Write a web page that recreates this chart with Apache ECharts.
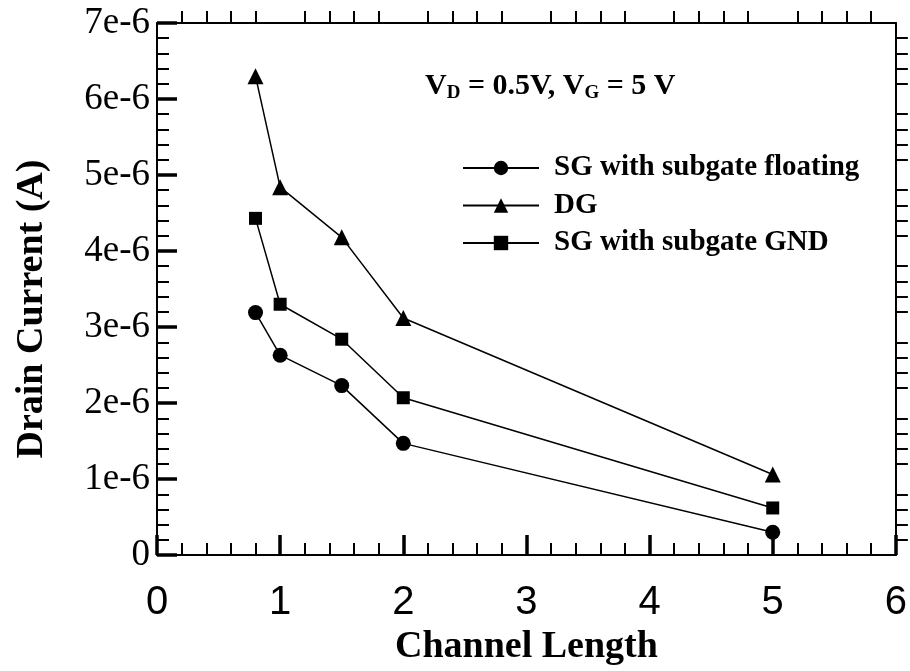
<!DOCTYPE html>
<html>
<head>
<meta charset="utf-8">
<script src="https://cdn.jsdelivr.net/npm/echarts@6/dist/echarts.min.js"></script>
<style>
  html, body { margin: 0; padding: 0; background: #fff; }
  #chart { width: 910px; height: 671px; }
</style>
</head>
<body>
<div id="chart"></div>
<script>
// Channel lengths of the measured devices
const channelLength = [0.8, 1, 1.5, 2, 5];

// Drain current (A) for each device configuration
const sgFloating = [3.19e-6, 2.63e-6, 2.23e-6, 1.47e-6, 0.30e-6];
const dg = [6.30e-6, 4.84e-6, 4.18e-6, 3.12e-6, 1.06e-6];
const sgGnd = [4.43e-6, 3.30e-6, 2.84e-6, 2.07e-6, 0.62e-6];

const seriesNames = ['SG with subgate floating', 'DG', 'SG with subgate GND'];

const serif = '"Liberation Serif", "Times New Roman", serif';
const sans = '"Liberation Sans", Arial, sans-serif';

function pairs(xs, ys) { return xs.map((x, i) => [x, ys[i]]); }

function yLabel(v) {
  const n = Math.round(v * 1e6);
  return n === 0 ? '0' : n + 'e-6';
}

const chart = echarts.init(document.getElementById('chart'), null, { renderer: 'canvas' });

const lineSeries = (name, ys, symbol, size) => ({
  name: name,
  type: 'line',
  data: pairs(channelLength, ys),
  symbol: symbol,
  symbolSize: size,
  showAllSymbol: true,
  itemStyle: { color: '#000' },
  lineStyle: { color: '#000', width: 1.5 },
  emphasis: { disabled: true },
  z: 5
});

chart.setOption({
  animation: false,
  backgroundColor: '#fff',
  grid: { left: 157, right: 13, top: 23, bottom: 114 },
  xAxis: [
    {
      type: 'value', min: 0, max: 6, interval: 1, position: 'bottom',
      name: 'Channel Length', nameLocation: 'middle', nameGap: 66,
      nameTextStyle: { fontFamily: serif, fontWeight: 'bold', fontSize: 38, color: '#000' },
      axisLine: { show: true, onZero: false, lineStyle: { color: '#000', width: 2 } },
      axisTick: { show: true, inside: true, length: 20, lineStyle: { color: '#000', width: 3.5 } },
      minorTick: { show: true, splitNumber: 5, length: 12, lineStyle: { color: '#000', width: 2 } },
      axisLabel: { margin: 28, fontFamily: sans, fontSize: 40, color: '#000' },
      splitLine: { show: false }, minorSplitLine: { show: false }
    },
    {
      type: 'value', min: 0, max: 6, interval: 1, position: 'top',
      axisLine: { show: true, onZero: false, lineStyle: { color: '#000', width: 2 } },
      axisTick: { show: false },
      minorTick: { show: true, splitNumber: 5, length: 12, lineStyle: { color: '#000', width: 2 } },
      axisLabel: { show: false },
      splitLine: { show: false }, minorSplitLine: { show: false }
    }
  ],
  yAxis: [
    {
      type: 'value', min: 0, max: 7e-6, interval: 1e-6, position: 'left',
      name: 'Drain Current (A)', nameLocation: 'middle', nameGap: 106,
      nameTextStyle: { fontFamily: serif, fontWeight: 'bold', fontSize: 38, color: '#000', padding: [0, 40, 0, 0] },
      axisLine: { show: true, onZero: false, lineStyle: { color: '#000', width: 2 } },
      axisTick: { show: true, inside: true, length: 20, lineStyle: { color: '#000', width: 3.5 } },
      minorTick: { show: true, splitNumber: 5, length: 12, lineStyle: { color: '#000', width: 2 } },
      axisLabel: { margin: 7, fontFamily: serif, fontSize: 37, color: '#000', formatter: yLabel },
      splitLine: { show: false }, minorSplitLine: { show: false }
    },
    {
      type: 'value', min: 0, max: 7e-6, interval: 1e-6, position: 'right',
      axisLine: { show: true, onZero: false, lineStyle: { color: '#000', width: 2 } },
      axisTick: { show: false },
      minorTick: { show: true, splitNumber: 5, length: 12, lineStyle: { color: '#000', width: 2 } },
      axisLabel: { show: false },
      splitLine: { show: false }, minorSplitLine: { show: false }
    }
  ],
  legend: {
    orient: 'vertical',
    left: 462, top: 153, padding: 0,
    itemWidth: 76, itemHeight: 18, itemGap: 7.5,
    data: seriesNames,
    selectedMode: false,
    textStyle: { fontFamily: serif, fontWeight: 'bold', fontSize: 29, lineHeight: 30, color: '#000', padding: [0, 0, 0, 10] }
  },
  graphic: [
    {
      type: 'text', left: 425, top: 70,
      style: {
        text: '{a|V}{s|D}{a| = 0.5V, V}{s|G}{a| = 5 V}',
        rich: {
          a: { fontFamily: serif, fontWeight: 'bold', fontSize: 30, fill: '#000', lineHeight: 34 },
          s: { fontFamily: serif, fontWeight: 'bold', fontSize: 19, fill: '#000', padding: [14, 0, 0, 0], lineHeight: 34 }
        }
      }
    }
  ],
  series: [
    lineSeries(seriesNames[0], sgFloating, 'circle', 15),
    lineSeries(seriesNames[1], dg, 'triangle', 16),
    lineSeries(seriesNames[2], sgGnd, 'rect', 13)
  ]
});
</script>
</body>
</html>
